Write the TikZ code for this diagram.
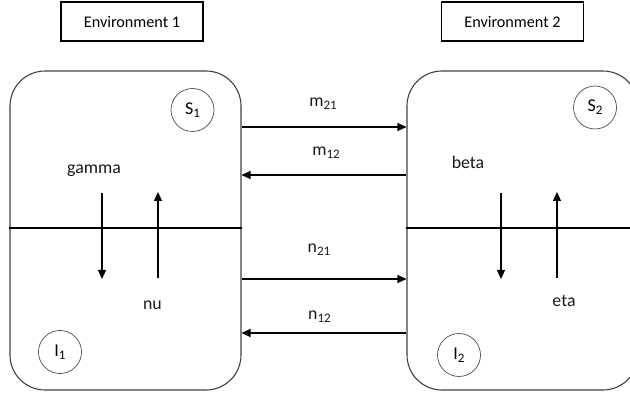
\documentclass[tikz,border=0pt]{standalone}
\usepackage{fontspec}
\setmainfont{Carlito}
\usetikzlibrary{arrows.meta}
\newcommand{\lsub}[1]{\raisebox{-0.35ex}{\fontsize{13}{15}\selectfont #1}}
\begin{document}
\begin{tikzpicture}[x=1pt,y=-1pt,
  envbox/.style={draw=black,line width=1.1pt,minimum width=142pt,minimum height=39pt,inner sep=0pt,font=\fontsize{16.2}{19}\selectfont},
  bigbox/.style={draw=black!75,line width=1.1pt,rounded corners=35pt,minimum width=231pt,minimum height=319pt,inner sep=0pt},
  state/.style={draw=black!70,line width=0.7pt,circle,minimum size=43pt,inner sep=0pt,font=\fontsize{18}{21}\selectfont},
  flow/.style={line width=1.1pt,-{Triangle[length=9pt,width=8pt]}},
  lbl/.style={font=\fontsize{17.8}{21}\selectfont,text=black!90,inner sep=0pt},
  divider/.style={line width=1.1pt}]
\useasboundingbox (0,0) rectangle (630,398);
\clip (0,0) rectangle (630,398);
\node[envbox] (E1) at (132,21.5) {Environment 1};
\node[envbox] (E2) at (512.5,21.5) {Environment 2};
\node[bigbox] (L) at (125.5,230.5) {};
\node[bigbox] (R) at (522.5,230.5) {};
\node[state] (S1) at (192.5,110) {S\lsub{1}};
\node[state] (S2) at (595,107.5) {S\lsub{2}};
\node[state] (I1) at (60,352) {I\lsub{1}};
\node[state] (I2) at (459,355) {I\lsub{2}};
% dividers
\coordinate (dy) at (0,228);
\draw[divider] (L.west |- dy) -- (L.east |- dy);
\draw[divider] (R.west |- dy) -- (R.east |- dy);
% exchange arrows
\coordinate (ym21) at (0,127);
\coordinate (ym12) at (0,175);
\coordinate (yn21) at (0,279);
\coordinate (yn12) at (0,333);
\draw[flow] (L.east |- ym21) -- (R.west |- ym21);
\draw[flow] (R.west |- ym12) -- (L.east |- ym12);
\draw[flow] (L.east |- yn21) -- (R.west |- yn21);
\draw[flow] (R.west |- yn12) -- (L.east |- yn12);
\node[lbl] (m21) at (323,104) {m\lsub{21}};
\node[lbl] (m12) at (326,153) {m\lsub{12}};
\node[lbl] (n21) at (319,250) {n\lsub{21}};
\node[lbl] (n12) at (319.5,317) {n\lsub{12}};
% inner arrows
\coordinate (a1t) at (102,193); \coordinate (a1b) at (102,279);
\coordinate (a2t) at (158,192); \coordinate (a2b) at (158,278);
\coordinate (a3t) at (501,193); \coordinate (a3b) at (501,279);
\coordinate (a4t) at (557,192); \coordinate (a4b) at (557,278);
\draw[flow] (a1t) -- (a1b);
\draw[flow] (a2b) -- (a2t);
\draw[flow] (a3t) -- (a3b);
\draw[flow] (a4b) -- (a4t);
\node[lbl] (gamma) at (94,171) {gamma};
\node[lbl] (nu) at (152.5,305) {nu};
\node[lbl] (beta) at (468,162) {beta};
\node[lbl] (eta) at (564,300.5) {eta};
\end{tikzpicture}
\end{document}
